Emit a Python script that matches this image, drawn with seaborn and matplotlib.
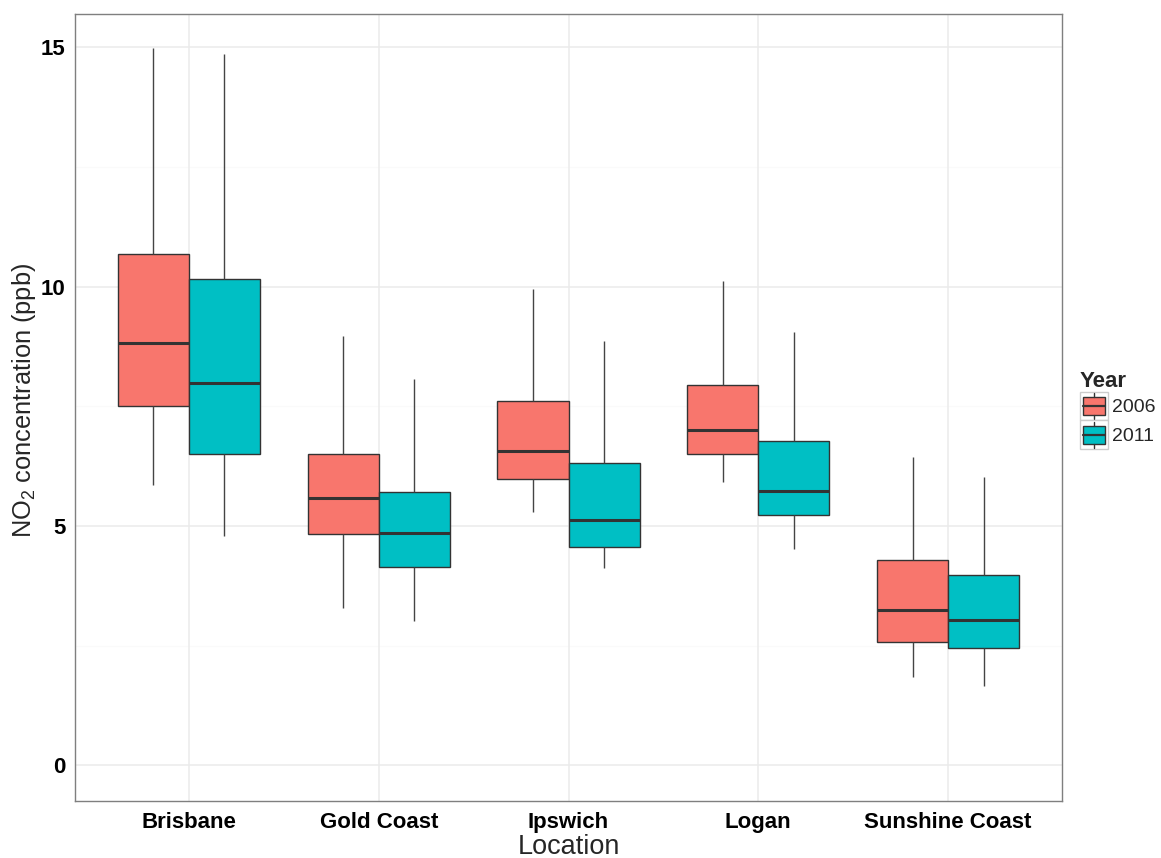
import numpy as np
import pandas as pd
import matplotlib
matplotlib.use("Agg")
import matplotlib.pyplot as plt
import seaborn as sns
from matplotlib.legend_handler import HandlerBase
from matplotlib.patches import Rectangle
from matplotlib.lines import Line2D

# Monitoring sites and survey years
locations = ["Brisbane", "Gold Coast", "Ipswich", "Logan", "Sunshine Coast"]
years = ["2006", "2011"]

# Five-number summaries (ppb) per site: lower whisker, Q1, median, Q3, upper whisker
no2_2006_low = [5.86, 3.29, 5.29, 5.91, 1.85]
no2_2006_q1 = [7.50, 4.83, 5.99, 6.50, 2.57]
no2_2006_med = [8.83, 5.58, 6.56, 7.00, 3.24]
no2_2006_q3 = [10.68, 6.50, 7.60, 7.95, 4.28]
no2_2006_high = [14.98, 8.97, 9.95, 10.12, 6.45]

no2_2011_low = [4.80, 3.02, 4.12, 4.52, 1.66]
no2_2011_q1 = [6.50, 4.14, 4.56, 5.24, 2.45]
no2_2011_med = [7.99, 4.85, 5.13, 5.74, 3.04]
no2_2011_q3 = [10.15, 5.71, 6.32, 6.77, 3.97]
no2_2011_high = [14.86, 8.06, 8.87, 9.06, 6.02]

year_colors = ["#F8766D", "#00BFC4"]
line_col = "#333333"

# Long-form table: the five summary values of each box are its sample, so the
# 0th/25th/50th/75th/100th percentiles reproduce the summary exactly.
summaries = {
    "2006": [no2_2006_low, no2_2006_q1, no2_2006_med, no2_2006_q3, no2_2006_high],
    "2011": [no2_2011_low, no2_2011_q1, no2_2011_med, no2_2011_q3, no2_2011_high],
}
rows = []
for yr in years:
    for i, loc in enumerate(locations):
        for stat in summaries[yr]:
            rows.append({"Location": loc, "Year": yr, "NO2": stat[i]})
df = pd.DataFrame(rows)

sns.set_theme(style="white")
plt.rcParams["font.family"] = ["Liberation Sans", "DejaVu Sans"]
plt.rcParams["mathtext.fontset"] = "custom"
plt.rcParams["mathtext.rm"] = "Liberation Sans"
plt.rcParams["mathtext.it"] = "Liberation Sans:italic"
plt.rcParams["mathtext.bf"] = "Liberation Sans:bold"

W, H = 1161, 858
fig = plt.figure(figsize=(W / 100, H / 100), dpi=100)
px_l, px_r, px_t, px_b = 75, 1062, 13.5, 800.7
ax = fig.add_axes([px_l / W, 1 - px_b / H, (px_r - px_l) / W, (px_b - px_t) / H])

# Grid (theme_bw look) drawn beneath the boxes
ax.set_axisbelow(True)
for v in [2.5, 7.5, 12.5]:
    ax.axhline(v, color="#FAFAFA", lw=1.0, zorder=0)

sns.boxplot(
    data=df, x="Location", y="NO2", hue="Year",
    order=locations, hue_order=years, palette=year_colors,
    saturation=1, width=0.75, gap=0, whis=(0, 100),
    showfliers=False, showcaps=False,
    linecolor=line_col, linewidth=1.0,
    medianprops=dict(linewidth=2.2, color=line_col),
    whiskerprops=dict(linewidth=1.0, color="#444444"),
    legend=False, ax=ax,
)

ax.set_xlim(-0.6, 4.6)
ax.set_ylim(-0.735, 15.70)
ax.set_yticks([0, 5, 10, 15])
ax.set_yticklabels(["0", "5", "10", "15"])
ax.grid(True, which="major", color="#EBEBEB", lw=1.1)

for s in ax.spines.values():
    s.set_color("#7F7F7F")
    s.set_linewidth(1.0)

ax.tick_params(axis="both", which="major", direction="out", length=4,
               width=1.0, color=line_col, labelcolor="black", labelsize=16)
ax.tick_params(axis="x", pad=4)
ax.tick_params(axis="y", pad=3)
for lab in ax.get_xticklabels() + ax.get_yticklabels():
    lab.set_fontweight("bold")

ax.set_xlabel("Location", fontsize=19.5, labelpad=0.5)
ax.set_ylabel(r"NO$_{2}$ concentration (ppb)", fontsize=18.3)
ax.yaxis.set_label_coords(-0.0375, 0.509)


class BoxKeyHandler(HandlerBase):
    """Legend key drawn as a small boxplot glyph."""

    def create_artists(self, legend, orig_handle, xdescent, ydescent,
                       width, height, fontsize, trans):
        x0, y0 = -xdescent, -ydescent
        face = orig_handle.get_facecolor()
        bg = Rectangle((x0, y0), width, height, facecolor="white",
                       edgecolor="#CCCCCC", lw=1.0, transform=trans)
        box = Rectangle((x0 + 0.12 * width, y0 + 0.2 * height),
                        0.76 * width, 0.6 * height, facecolor=face,
                        edgecolor=line_col, lw=1.0, transform=trans)
        xm = x0 + 0.5 * width
        med = Line2D([x0 + 0.12 * width, x0 + 0.88 * width],
                     [y0 + 0.5 * height] * 2, color=line_col, lw=1.6,
                     transform=trans)
        wlo = Line2D([xm, xm], [y0 + 0.06 * height, y0 + 0.2 * height],
                     color=line_col, lw=1.0, transform=trans)
        whi = Line2D([xm, xm], [y0 + 0.8 * height, y0 + 0.94 * height],
                     color=line_col, lw=1.0, transform=trans)
        return [bg, box, med, wlo, whi]


handles = [Rectangle((0, 0), 1, 1, facecolor=c) for c in year_colors]
leg = ax.legend(
    handles, years, title="Year", loc="center left",
    bbox_to_anchor=(1080 / W, 1 - 410 / H), bbox_transform=fig.transFigure,
    frameon=False, fontsize=14, title_fontproperties=dict(weight="bold", size=16),
    handler_map={Rectangle: BoxKeyHandler()},
    handlelength=1.45, handleheight=1.9, handletextpad=0.2,
    labelspacing=0.0, borderpad=0, borderaxespad=0,
)
leg._legend_box.align = "left"

fig.savefig("out.png", dpi=100)
